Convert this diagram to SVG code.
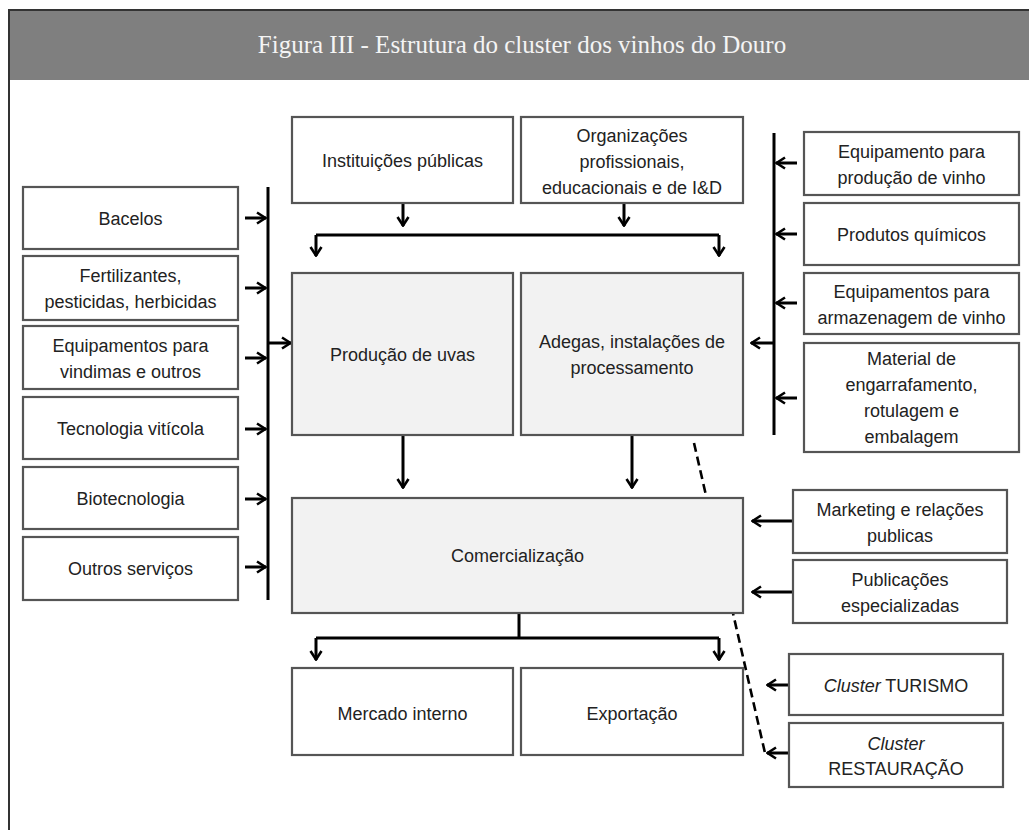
<svg xmlns="http://www.w3.org/2000/svg" width="1029" height="830" viewBox="0 0 1029 830">
<style>
.box{fill:#fff;stroke:#555;stroke-width:2.2}
.gbox{fill:#f2f2f2;stroke:#555;stroke-width:2.2}
.t{font-family:"Liberation Sans",Arial,sans-serif;font-size:18px;fill:#222;text-anchor:middle}
.c{fill:none;stroke:#000;stroke-width:3}
.a{fill:none;stroke:#000;stroke-width:3;marker-end:url(#ah)}
.d{fill:none;stroke:#000;stroke-width:2.6;stroke-dasharray:9 5}
</style>
<defs>
<marker id="ah" markerUnits="userSpaceOnUse" viewBox="0 0 12 14" refX="11" refY="7" markerWidth="12" markerHeight="14" orient="auto">
<path d="M2,1.5 L10.5,7 L2,12.5" fill="none" stroke="#000" stroke-width="2.6"/>
</marker>
</defs>
<rect x="0" y="0" width="1029" height="830" fill="#fff"/>
<g id="frame">
<rect x="9" y="10" width="1020" height="70" fill="#7f7f7f"/>
<path d="M9,830 V10 H1029" fill="none" stroke="#333" stroke-width="2"/>
<text x="522" y="53" style="font-family:'Liberation Serif','Times New Roman',serif;font-size:25px;fill:#f4f4f4;text-anchor:middle">Figura III - Estrutura do cluster dos vinhos do Douro</text>
</g>
<g id="connectors">
<path class="d" d="M694,443 L765,753"/>
<path class="c" d="M268,187 V600"/>
<path class="a" d="M245,218 H266"/>
<path class="a" d="M245,288 H266"/>
<path class="a" d="M245,358 H266"/>
<path class="a" d="M245,429 H266"/>
<path class="a" d="M245,499 H266"/>
<path class="a" d="M245,567 H266"/>
<path class="a" d="M268,343 H291"/>
<path class="a" d="M403,203 V226"/>
<path class="a" d="M624,203 V226"/>
<path class="c" d="M316,235 H719"/>
<path class="a" d="M316,235 V256"/>
<path class="a" d="M719,235 V256"/>
<path class="a" d="M403,435 V488"/>
<path class="a" d="M632,435 V488"/>
<path class="c" d="M519,613 V638"/>
<path class="c" d="M316,638 H719"/>
<path class="a" d="M316,638 V660"/>
<path class="a" d="M719,638 V660"/>
<path class="c" d="M774,133 V435"/>
<path class="a" d="M797,163 H776"/>
<path class="a" d="M797,234 H776"/>
<path class="a" d="M797,303 H776"/>
<path class="a" d="M797,398 H776"/>
<path class="a" d="M774,343 H751"/>
<path class="a" d="M793,521 H752"/>
<path class="a" d="M793,592 H752"/>
<path class="a" d="M789,685 H767"/>
<path class="a" d="M789,753 H767"/>
</g>
<g id="instituicoes"><rect class="box" x="292" y="117" width="221" height="86"/><text class="t" x="402.5" y="167">Instituições públicas</text></g>
<g id="organizacoes"><rect class="box" x="521" y="117" width="222" height="86"/><text class="t" x="632" y="141.5">Organizações</text><text class="t" x="632" y="167.5">profissionais,</text><text class="t" x="632" y="193.5">educacionais e de I&amp;D</text></g>
<g id="bacelos"><rect class="box" x="23" y="187" width="215" height="62"/><text class="t" x="130.5" y="225">Bacelos</text></g>
<g id="fertilizantes"><rect class="box" x="23" y="256" width="215" height="64"/><text class="t" x="130.5" y="282">Fertilizantes,</text><text class="t" x="130.5" y="308">pesticidas, herbicidas</text></g>
<g id="equip-vindimas"><rect class="box" x="23" y="326" width="215" height="63"/><text class="t" x="130.5" y="351.5">Equipamentos para</text><text class="t" x="130.5" y="377.5">vindimas e outros</text></g>
<g id="tecnologia"><rect class="box" x="23" y="397" width="215" height="62"/><text class="t" x="130.5" y="434.5">Tecnologia vitícola</text></g>
<g id="biotecnologia"><rect class="box" x="23" y="467" width="215" height="62"/><text class="t" x="130.5" y="504.5">Biotecnologia</text></g>
<g id="outros"><rect class="box" x="23" y="537" width="215" height="63"/><text class="t" x="130.5" y="575">Outros serviços</text></g>
<g id="producao-uvas"><rect class="gbox" x="292" y="273" width="221" height="162"/><text class="t" x="402.5" y="361">Produção de uvas</text></g>
<g id="adegas"><rect class="gbox" x="521" y="273" width="222" height="162"/><text class="t" x="632" y="347.5">Adegas, instalações de</text><text class="t" x="632" y="373.5">processamento</text></g>
<g id="equip-producao"><rect class="box" x="804" y="132" width="215" height="63"/><text class="t" x="911.5" y="157.5">Equipamento para</text><text class="t" x="911.5" y="183.5">produção de vinho</text></g>
<g id="produtos-quimicos"><rect class="box" x="804" y="203" width="215" height="62"/><text class="t" x="911.5" y="240.5">Produtos químicos</text></g>
<g id="equip-armazenagem"><rect class="box" x="804" y="273" width="215" height="61"/><text class="t" x="911.5" y="297.5">Equipamentos para</text><text class="t" x="911.5" y="323.5">armazenagem de vinho</text></g>
<g id="material"><rect class="box" x="804" y="343" width="215" height="109"/><text class="t" x="911.5" y="365">Material de</text><text class="t" x="911.5" y="391">engarrafamento,</text><text class="t" x="911.5" y="417">rotulagem e</text><text class="t" x="911.5" y="443">embalagem</text></g>
<g id="comercializacao"><rect class="gbox" x="292" y="498" width="451" height="115"/><text class="t" x="517.5" y="562">Comercialização</text></g>
<g id="marketing"><rect class="box" x="793" y="490" width="214" height="63"/><text class="t" x="900" y="515.5">Marketing e relações</text><text class="t" x="900" y="541.5">publicas</text></g>
<g id="publicacoes"><rect class="box" x="793" y="560" width="214" height="63"/><text class="t" x="900" y="586">Publicações</text><text class="t" x="900" y="612">especializadas</text></g>
<g id="mercado-interno"><rect class="box" x="292" y="668" width="221" height="87"/><text class="t" x="402.5" y="720">Mercado interno</text></g>
<g id="exportacao"><rect class="box" x="521" y="668" width="222" height="87"/><text class="t" x="632" y="720">Exportação</text></g>
<g id="cluster-turismo"><rect class="box" x="789" y="654" width="214" height="61"/><text class="t" x="896" y="692"><tspan font-style="italic">Cluster</tspan> TURISMO</text></g>
<g id="cluster-restauracao"><rect class="box" x="789" y="723" width="214" height="64"/><text class="t" x="896" y="750" font-style="italic">Cluster</text><text class="t" x="896" y="775">RESTAURAÇÃO</text></g>
</svg>
